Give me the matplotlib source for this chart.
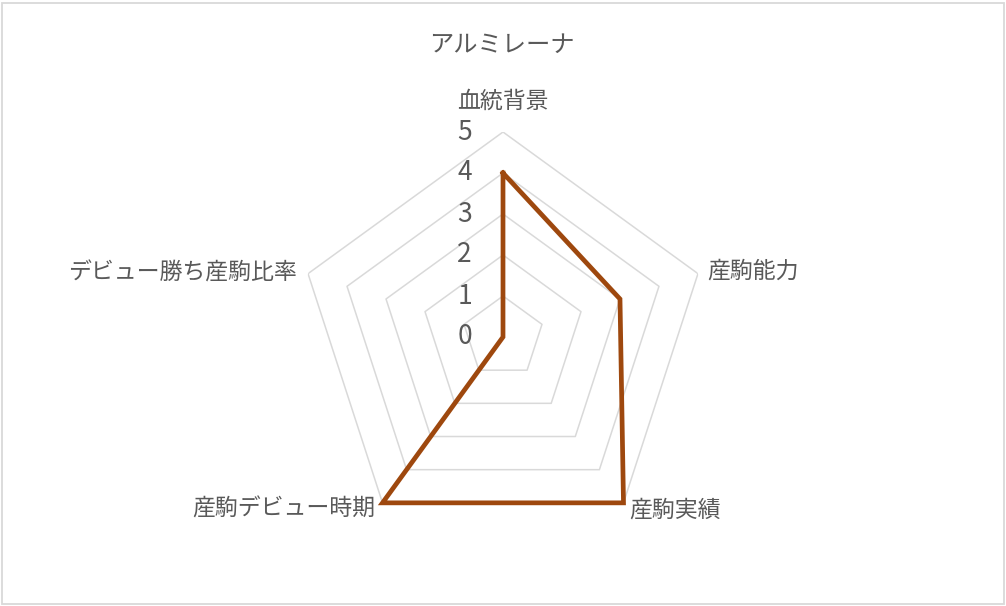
import numpy as np
import matplotlib
matplotlib.use("Agg")
import matplotlib.pyplot as plt
from matplotlib.patches import Rectangle

plt.rcParams['font.family'] = ['Noto Sans CJK JP', 'DejaVu Sans']

title = "アルミレーナ"
categories = ["血統背景", "産駒能力", "産駒実績", "産駒デビュー時期", "デビュー勝ち産駒比率"]
values = [4, 3, 5, 5, 0]
levels = [0, 1, 2, 3, 4, 5]

# label placement (offset in pixels from the outer vertex, alignment)
label_pos = [((0, 31), 'center'), ((9, 3), 'left'), ((6, -7), 'left'),
             ((-7, -6), 'right'), ((-11, 1), 'right')]

text_col = '#595959'
grid_col = '#D9D9D9'
line_col = '#9E480E'

W, H = 1006, 606
fig = plt.figure(figsize=(W / 100, H / 100), dpi=100)
fig.patch.set_facecolor('white')
fig.patches.append(Rectangle((1.5 / W, 2.5 / H), 1002 / W, 601 / H,
                             transform=fig.transFigure, fill=False,
                             edgecolor=grid_col, linewidth=1.3))

cx, cy, R = 503, 337, 205
ax = fig.add_axes([(cx - R) / W, (H - cy - R) / H, 2 * R / W, 2 * R / H], polar=True)
ax.set_theta_offset(np.pi / 2)
ax.set_theta_direction(-1)
ax.set_ylim(0, 5)
ax.grid(False)
ax.spines['polar'].set_visible(False)
ax.set_xticks([])
ax.set_yticks([])
ax.patch.set_alpha(0)

n = len(categories)
theta = np.arange(n) * 2 * np.pi / n
theta_c = np.append(theta, theta[0])

for lv in levels[1:]:
    ax.plot(theta_c, [lv] * (n + 1), color=grid_col, lw=1.1, zorder=1)

vals = values + values[:1]
ax.plot(theta_c, vals, color=line_col, lw=3.4, solid_joinstyle='miter', zorder=3, clip_on=False)

for lv in levels:
    ax.annotate(str(lv), xy=(0, lv), xytext=(-31, 0), textcoords='offset pixels',
                ha='right', va='center', fontsize=19, color=text_col, annotation_clip=False)

for t, cat, (off, ha) in zip(theta, categories, label_pos):
    ax.annotate(cat, xy=(t, 5), xytext=off, textcoords='offset pixels',
                ha=ha, va='center', fontsize=16.5, color=text_col, annotation_clip=False)

fig.text(502 / W, 1 - 45 / H, title, ha='center', va='center', fontsize=17.5, color=text_col)

fig.savefig("out.png", dpi=100, facecolor='white')
